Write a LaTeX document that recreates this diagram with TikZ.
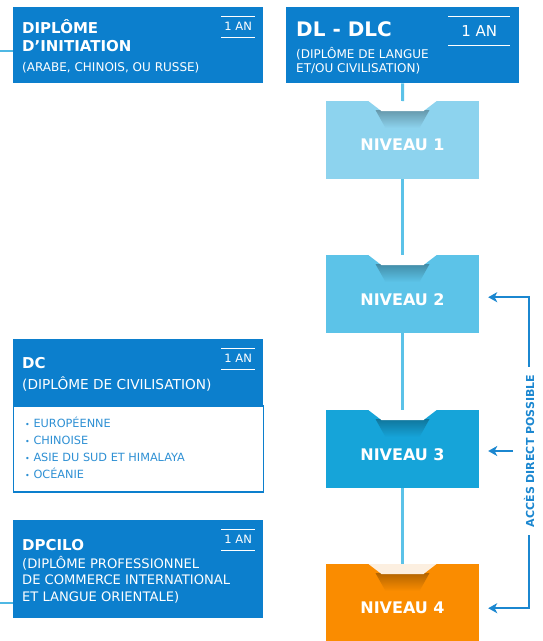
\documentclass[tikz,border=0pt]{standalone}
\usepackage{fontspec}
\setmainfont{DejaVu Sans}
\usetikzlibrary{arrows.meta,positioning}
\definecolor{boxblue}{HTML}{0C7FCD}
\definecolor{lvlone}{HTML}{8DD3EE}
\definecolor{lvltwo}{HTML}{5CC3E8}
\definecolor{lvlthree}{HTML}{16A4D9}
\definecolor{lvlfour}{HTML}{FA8C00}
\definecolor{notchcream}{HTML}{FCEFE0}
\definecolor{linkblue}{HTML}{5BC2E8}
\definecolor{arrowblue}{HTML}{1B87D0}
\definecolor{listtext}{HTML}{2E90D4}
\newcommand{\fsz}[1]{\fontsize{#1}{#1}\selectfont}
% notch cut into the top of a level box: #1 node, #2 box colour, #3 notch colour
\newcommand{\lvlnotch}[3]{%
  \shade[top color=#2!72!black, bottom color=#2]
    ([shift={(-27,9)}]#1.north) -- ([shift={(27,9)}]#1.north)
    -- ([shift={(17,27)}]#1.north) -- ([shift={(-17,27)}]#1.north) -- cycle;
  \fill[#3] ([shift={(-34,0)}]#1.north) -- ([shift={(34,0)}]#1.north)
    -- ([shift={(21,10)}]#1.north) -- ([shift={(-21,10)}]#1.north) -- cycle;
}

\begin{document}
\begin{tikzpicture}[x=1pt, y=-1pt]
  \tikzset{darkbox/.style={fill=boxblue, inner sep=0pt, minimum width=250pt, anchor=north west},
           lvlbox/.style={inner sep=0pt, minimum width=153pt, minimum height=78pt, anchor=north},
           lvltext/.style={text=white, font=\bfseries\fsz{16}, yshift=-5pt},
           titletext/.style={text=white, font=\bfseries\fsz{15}, inner sep=0pt, anchor=base west},
           subtext/.style={text=white, font=\fontsize{12}{14}\selectfont, inner sep=0pt, anchor=base west, align=left},
           anbox/.style={text=white, font=\fsz{11.5}, inner sep=0pt, minimum width=34pt, minimum height=21pt, anchor=north east},
           anrule/.style={draw=white, line width=0.8pt},
           lvlline/.style={draw=linkblue, line width=3pt},
           stubline/.style={draw=linkblue!85!boxblue, line width=2pt},
           accarrow/.style={draw=arrowblue, line width=2.5pt, -{Stealth[length=9pt, width=10pt, inset=2.5pt]}}}
  \useasboundingbox (0,0) rectangle (542,641);

  % left column (multi-line texts sit on their last baseline)
  \node[darkbox, minimum height=76pt] (init) at (13,7) {};
  \node[titletext] (init-t1) at ([shift={(9,26)}]init.north west) {DIPLÔME};
  \node[titletext] (init-t2) at ([shift={(9,44)}]init.north west) {D’INITIATION};
  \node[subtext] (init-s) at ([shift={(9,64)}]init.north west) {(ARABE, CHINOIS, OU RUSSE)};
  \node[anbox] (init-an) at ([shift={(-8,9)}]init.north east) {1 AN};

  \node[darkbox, minimum height=66pt] (dc) at (13,339) {};
  \node[fill=white, draw=boxblue, line width=1.2pt, inner sep=0pt, minimum width=250pt,
        minimum height=86pt, anchor=north west] (dc-list) at (dc.south west) {};
  \node[titletext] (dc-t) at ([shift={(9,29)}]dc.north west) {DC};
  \node[subtext, font=\fsz{13.7}] (dc-s) at ([shift={(9,50)}]dc.north west) {(DIPLÔME DE CIVILISATION)};
  \node[anbox] (dc-an) at ([shift={(-8,9)}]dc.north east) {1 AN};
  \node[subtext, text=listtext, font=\fontsize{11.3}{17}\selectfont] (dc-items)
    at ([shift={(12,73)}]dc-list.north west)
    {{\fsz{8}•} EUROPÉENNE\\{\fsz{8}•} CHINOISE\\{\fsz{8}•} ASIE DU SUD ET HIMALAYA\\{\fsz{8}•} OCÉANIE};

  \node[darkbox, minimum height=98pt] (dpc) at (13,520) {};
  \node[titletext] (dpc-t) at ([shift={(9,30)}]dpc.north west) {DPCILO};
  \node[subtext, font=\fontsize{13.1}{16.5}\selectfont] (dpc-s) at ([shift={(9,81)}]dpc.north west)
    {(DIPLÔME PROFESSIONNEL\\DE COMMERCE INTERNATIONAL\\ET LANGUE ORIENTALE)};
  \node[anbox] (dpc-an) at ([shift={(-8,9)}]dpc.north east) {1 AN};

  \coordinate (init-in) at (0,51);
  \coordinate (dpc-in) at (0,603);
  \draw[stubline] (init-in) -- (init-in -| init.west);
  \draw[stubline] (dpc-in) -- (dpc-in -| dpc.west);

  % right column
  \node[darkbox, minimum width=233pt, minimum height=76pt] (dl) at (286,7) {};
  \node[titletext, font=\bfseries\fsz{20}] (dl-t) at ([shift={(10,29)}]dl.north west) {DL - DLC};
  \node[subtext] (dl-s) at ([shift={(10,65)}]dl.north west) {(DIPLÔME DE LANGUE\\ET/OU CIVILISATION)};
  \node[anbox, font=\fsz{15}, minimum width=62pt, minimum height=29pt] (dl-an) at ([shift={(-9,9)}]dl.north east) {1 AN};

  \node[lvlbox, fill=lvlone, label={[lvltext]center:NIVEAU 1}] (n1) at (402.5,101) {};
  \node[lvlbox, fill=lvltwo, label={[lvltext]center:NIVEAU 2}] (n2) at (402.5,255) {};
  \node[lvlbox, fill=lvlthree, label={[lvltext]center:NIVEAU 3}] (n3) at (402.5,410) {};
  \node[lvlbox, fill=lvlfour, minimum height=88pt, label={[lvltext, yshift=5pt]center:NIVEAU 4}] (n4) at (402.5,564) {};
  \lvlnotch{n1}{lvlone}{white}
  \lvlnotch{n2}{lvltwo}{white}
  \lvlnotch{n3}{lvlthree}{white}
  \lvlnotch{n4}{lvlfour}{notchcream}

  \foreach \a/\b in {dl/n1, n1/n2, n2/n3, n3/n4}
    \draw[lvlline] (\a.south) -- (\b.north);

  \foreach \a in {init-an, dc-an, dpc-an, dl-an}
    \draw[anrule] (\a.north west) -- (\a.north east) (\a.south west) -- (\a.south east);

  % direct access bracket
  \node[rotate=90, text=arrowblue, font=\bfseries\fsz{11}, inner xsep=8pt, inner ysep=0pt] (acc) at (529,451) {ACCÈS DIRECT POSSIBLE};
  \coordinate (n2in) at ([shift={(9,3)}]n2.east);
  \coordinate (n3in) at ([xshift=9pt]n3.east);
  \coordinate (n4in) at ([xshift=9pt]n4.east);
  \draw[accarrow] (acc.east) |- (n2in);
  \draw[accarrow] (acc.west) |- (n4in);
  \draw[accarrow] ([xshift=-16pt]acc.center) -- (n3in |- acc.center);
\end{tikzpicture}
\end{document}
